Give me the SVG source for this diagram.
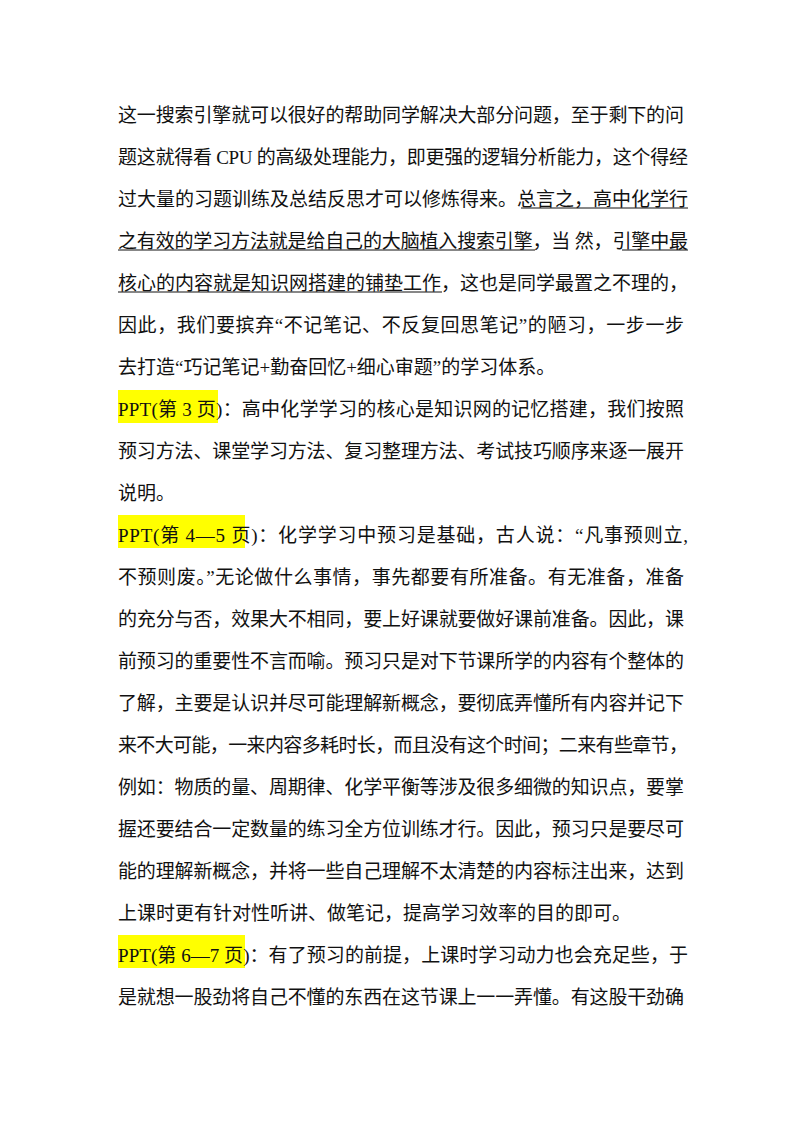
<svg xmlns="http://www.w3.org/2000/svg" width="800" height="1132" viewBox="0 0 800 1132">
<style>
.t{font-family:"Liberation Serif","Noto Sans CJK SC",serif;font-size:19px;fill:#111}
.hl{fill:#ffff00}
.u{stroke:#111;stroke-width:1}
</style>
<rect width="800" height="1132" fill="#fff"/>
<g id="highlights">
<rect class="hl" x="118" y="390" width="100" height="33"/>
<rect class="hl" x="118" y="515" width="127" height="33"/>
<rect class="hl" x="118" y="935" width="127" height="33"/>
</g>
<g id="underlines">
<line class="u" x1="521" y1="208" x2="688" y2="208"/>
<line class="u" x1="118" y1="250" x2="535" y2="250"/>
<line class="u" x1="622" y1="250" x2="688" y2="250"/>
<line class="u" x1="118" y1="292" x2="442" y2="292"/>
</g>
<g id="body">
<text class="t" x="118" y="122" textLength="566" lengthAdjust="spacing">这一搜索引擎就可以很好的帮助同学解决大部分问题，至于剩下的问</text>
<text class="t" x="118" y="164" textLength="570" lengthAdjust="spacing">题这就得看 CPU 的高级处理能力，即更强的逻辑分析能力，这个得经</text>
<text class="t" x="118" y="206" textLength="570" lengthAdjust="spacing">过大量的习题训练及总结反思才可以修炼得来。总言之，高中化学行</text>
<text class="t" x="118" y="248" textLength="570" lengthAdjust="spacing">之有效的学习方法就是给自己的大脑植入搜索引擎，当 然，引擎中最</text>
<text class="t" x="118" y="290" textLength="570" lengthAdjust="spacing">核心的内容就是知识网搭建的铺垫工作，这也是同学最置之不理的，</text>
<text class="t" x="118" y="332" textLength="566" lengthAdjust="spacing">因此，我们要摈弃“不记笔记、不反复回思笔记”的陋习，一步一步</text>
<text class="t" x="118" y="374">去打造“巧记笔记+勤奋回忆+细心审题”的学习体系。</text>
<text class="t" x="118" y="416" textLength="566" lengthAdjust="spacing">PPT(第 3 页)：高中化学学习的核心是知识网的记忆搭建，我们按照</text>
<text class="t" x="118" y="458" textLength="566" lengthAdjust="spacing">预习方法、课堂学习方法、复习整理方法、考试技巧顺序来逐一展开</text>
<text class="t" x="118" y="500">说明。</text>
<text class="t" x="118" y="542" textLength="570" lengthAdjust="spacing">PPT(第 4—5 页)：化学学习中预习是基础，古人说：“凡事预则立,</text>
<text class="t" x="118" y="584" textLength="566" lengthAdjust="spacing">不预则废。”无论做什么事情，事先都要有所准备。有无准备，准备</text>
<text class="t" x="118" y="626" textLength="566" lengthAdjust="spacing">的充分与否，效果大不相同，要上好课就要做好课前准备。因此，课</text>
<text class="t" x="118" y="668" textLength="566" lengthAdjust="spacing">前预习的重要性不言而喻。预习只是对下节课所学的内容有个整体的</text>
<text class="t" x="118" y="710" textLength="566" lengthAdjust="spacing">了解，主要是认识并尽可能理解新概念，要彻底弄懂所有内容并记下</text>
<text class="t" x="118" y="752" textLength="570" lengthAdjust="spacing">来不大可能，一来内容多耗时长，而且没有这个时间；二来有些章节，</text>
<text class="t" x="118" y="794" textLength="566" lengthAdjust="spacing">例如：物质的量、周期律、化学平衡等涉及很多细微的知识点，要掌</text>
<text class="t" x="118" y="836" textLength="566" lengthAdjust="spacing">握还要结合一定数量的练习全方位训练才行。因此，预习只是要尽可</text>
<text class="t" x="118" y="878" textLength="566" lengthAdjust="spacing">能的理解新概念，并将一些自己理解不太清楚的内容标注出来，达到</text>
<text class="t" x="118" y="920">上课时更有针对性听讲、做笔记，提高学习效率的目的即可。</text>
<text class="t" x="118" y="962" textLength="570" lengthAdjust="spacing">PPT(第 6—7 页)：有了预习的前提，上课时学习动力也会充足些，于</text>
<text class="t" x="118" y="1004" textLength="566" lengthAdjust="spacing">是就想一股劲将自己不懂的东西在这节课上一一弄懂。有这股干劲确</text>
</g>
</svg>
